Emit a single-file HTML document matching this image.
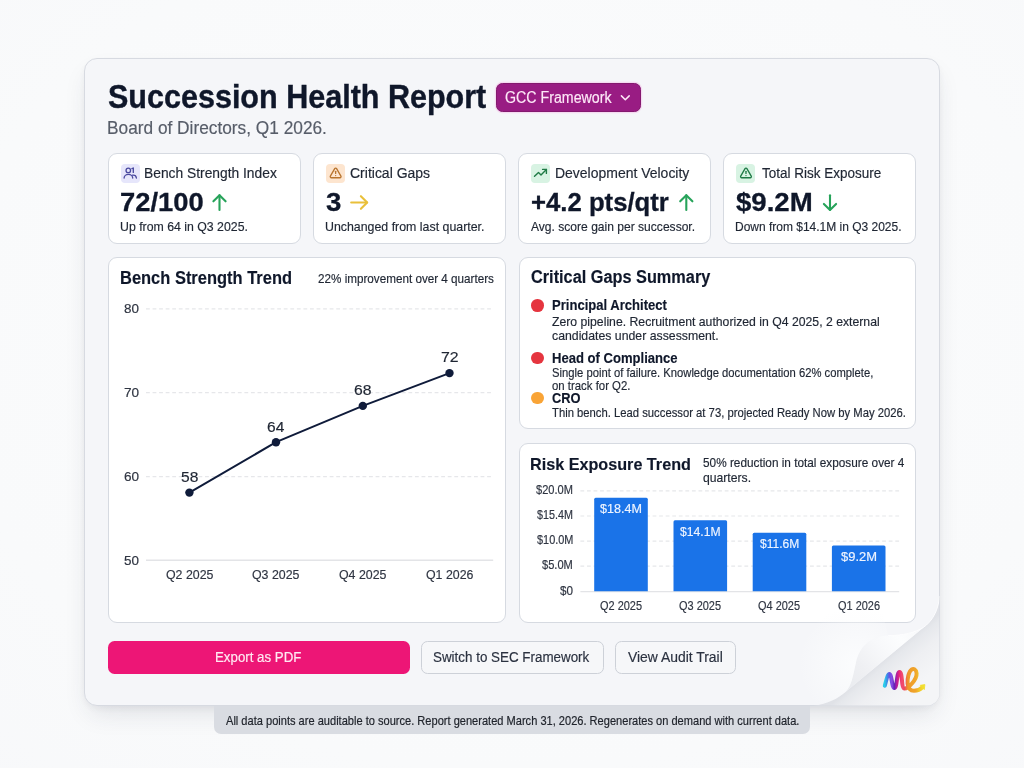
<!DOCTYPE html>
<html lang="en"><head><meta charset="utf-8"><title>Succession Health Report</title>
<style>
*{box-sizing:border-box}
html,body{margin:0;padding:0}
body{width:1024px;height:768px;overflow:hidden;font-family:"Liberation Sans",sans-serif;
 background:radial-gradient(ellipse 85% 85% at 50% 45%,#fbfcfd 0%,#f9fafb 65%,#f7f8fa 100%);position:relative}
.stage{position:absolute;left:0;top:0;width:1024px;height:768px;will-change:transform}
.abs{position:absolute;pointer-events:none}
.t{position:absolute;white-space:nowrap;margin:0;padding:0;font-weight:400;transform-origin:0 50%}
.card{position:absolute;left:84px;top:58px;width:856px;height:648px;border-radius:13px;background:#f5f6f9;
 border:1px solid #d7dae1;box-shadow:0 12px 26px -6px rgba(40,50,70,.13),0 3px 10px -1px rgba(40,50,70,.06)}
.dd{position:absolute;left:495.5px;top:83px;width:145.7px;height:29px;border-radius:6.5px;background:#991c83;border:1px solid #84196f;
 box-shadow:0 0 0 1.2px rgba(244,208,238,.75)}
.kpi{position:absolute;top:153px;width:192.7px;height:91px;border-radius:9px;background:#fff;border:1px solid #d6dae1}
.ib{position:absolute;top:163.8px;width:18.8px;height:18.8px;border-radius:4px}
.panel{position:absolute;border-radius:9px;background:#fff;border:1px solid #d6dae1}
.dot{position:absolute;width:12.6px;height:12.6px;border-radius:50%}
.btn{position:absolute;top:640.6px;height:33.4px;border-radius:6.5px}
.btn.pri{background:#ed1676}
.btn.sec{background:#f6f7f9;border:1px solid #cdd1d8}
.foot{position:absolute;left:214px;top:706.3px;width:596.2px;height:27.6px;background:#d9dce2;border-radius:0 0 7px 7px}
</style></head>
<body>
<div class="stage">
<div class="card"></div>
<header>
<h1 class="t" style="left:108.09px;top:80.43px;font-size:33.4px;line-height:33.4px;color:#0f172a;font-weight:700;transform:scaleX(0.9142);-webkit-text-stroke:0.4px #0f172a;">Succession Health Report</h1>
<p class="t" style="left:107.22px;top:119.16px;font-size:18px;line-height:18px;color:#575d69;transform:scaleX(0.9598);-webkit-text-stroke:0.18px #575d69;">Board of Directors, Q1 2026.</p>
<div class="dd"></div>
<div class="t" style="left:504.79px;top:89.69px;font-size:15.6px;line-height:15.6px;color:#fde8f7;transform:scaleX(0.9108);-webkit-text-stroke:0.18px #fde8f7;">GCC Framework</div>
<svg class="abs" style="left:619px;top:92px" width="13" height="12" viewBox="0 0 13 12"><path d="M2.4 3.9 L6.3 7.8 L10.2 3.9" fill="none" stroke="#fde8f7" stroke-width="1.5" stroke-linecap="round" stroke-linejoin="round"/></svg>
</header>
<section>
<div class="kpi" style="left:108.0px"></div>
<div class="kpi" style="left:312.9px"></div>
<div class="kpi" style="left:518.2px"></div>
<div class="kpi" style="left:723.2px"></div>
<div class="ib" style="left:121.2px;background:#e6e6fb"></div>
<div class="ib" style="left:326.3px;background:#fde5cf"></div>
<div class="ib" style="left:531.3px;background:#d8f3e3"></div>
<div class="ib" style="left:736.4px;background:#d8f3e3"></div>
<svg class="abs" style="left:0;top:0" width="1024" height="768" viewBox="0 0 1024 768">
<g fill="none" stroke-linecap="round" stroke-linejoin="round">
 <g stroke="#4b4aa0" stroke-width="1.35">
  <circle cx="128.3" cy="170.4" r="2.25"/>
  <path d="M124.1 178 a4.3 3.6 0 0 1 8.6 0"/>
  <path d="M133.3 168.2 v4.2"/>
  <path d="M131.9 168.6 l1.4 -0.4"/>
  <path d="M132.6 175.2 a3.4 3.2 0 0 1 3.8 2.8"/>
 </g>
 <g stroke="#b8742e" stroke-width="2.45" transform="translate(329.17 166.43) scale(.54)">
  <path d="m21.73 18-8-14a2 2 0 0 0-3.48 0l-8 14A2 2 0 0 0 4 21h16a2 2 0 0 0 1.73-3"/>
  <path d="M12 9v4"/><path d="M12 17h.01"/>
 </g>
 <g stroke="#1f7a45" stroke-width="1.4">
  <path d="M534.5 176.3 L538.5 172.4 L541 174.9 L546.4 169.5"/>
  <path d="M542.6 169.4 H546.4 V173.4"/>
 </g>
 <g stroke="#1f7a45" stroke-width="2.45" transform="translate(739.5 166.43) scale(.54)">
  <path d="m21.73 18-8-14a2 2 0 0 0-3.48 0l-8 14A2 2 0 0 0 4 21h16a2 2 0 0 0 1.73-3"/>
  <path d="M12 9v4"/><path d="M12 17h.01"/>
 </g>
 <!-- trend arrows -->
 <g stroke="#27a35a" stroke-width="2.1">
  <path d="M219.5 195.4 V210"/><path d="M213.4 201.3 L219.5 195.2 L225.6 201.3"/>
  <path d="M686.3 195.4 V210"/><path d="M680.2 201.3 L686.3 195.2 L692.4 201.3"/>
  <path d="M830 195.2 V209.8"/><path d="M823.9 203.9 L830 210 L836.1 203.9"/>
 </g>
 <g stroke="#e9c03a" stroke-width="2.1">
  <path d="M351.2 202.5 H367"/><path d="M360.9 196.2 L367.2 202.5 L360.9 208.8"/>
 </g>
</g></svg>
<div class="t" style="left:144.49px;top:165.86px;font-size:14.7px;line-height:14.7px;color:#1f2633;transform:scaleX(0.9401);-webkit-text-stroke:0.18px #1f2633;">Bench Strength Index</div>
<div class="t" style="left:350.10px;top:165.86px;font-size:14.7px;line-height:14.7px;color:#1f2633;transform:scaleX(0.9529);-webkit-text-stroke:0.18px #1f2633;">Critical Gaps</div>
<div class="t" style="left:554.68px;top:165.86px;font-size:14.7px;line-height:14.7px;color:#1f2633;transform:scaleX(0.9512);-webkit-text-stroke:0.18px #1f2633;">Development Velocity</div>
<div class="t" style="left:761.53px;top:165.86px;font-size:14.7px;line-height:14.7px;color:#1f2633;transform:scaleX(0.9189);-webkit-text-stroke:0.18px #1f2633;">Total Risk Exposure</div>
<div class="t" style="left:119.70px;top:189.28px;font-size:26.6px;line-height:26.6px;color:#0f172a;font-weight:700;transform:scaleX(1.0294);-webkit-text-stroke:0.3px #0f172a;">72/100</div>
<div class="t" style="left:326.15px;top:189.28px;font-size:26.6px;line-height:26.6px;color:#0f172a;font-weight:700;transform:scaleX(1.0376);-webkit-text-stroke:0.3px #0f172a;">3</div>
<div class="t" style="left:531.17px;top:189.28px;font-size:26.6px;line-height:26.6px;color:#0f172a;font-weight:700;transform:scaleX(0.9664);-webkit-text-stroke:0.3px #0f172a;">+4.2 pts/qtr</div>
<div class="t" style="left:736.32px;top:189.28px;font-size:26.6px;line-height:26.6px;color:#0f172a;font-weight:700;transform:scaleX(1.0376);-webkit-text-stroke:0.3px #0f172a;">$9.2M</div>
<div class="t" style="left:119.94px;top:219.97px;font-size:13.5px;line-height:13.5px;color:#1f2633;transform:scaleX(0.9115);-webkit-text-stroke:0.18px #1f2633;">Up from 64 in Q3 2025.</div>
<div class="t" style="left:325.33px;top:219.97px;font-size:13.5px;line-height:13.5px;color:#1f2633;transform:scaleX(0.9158);-webkit-text-stroke:0.18px #1f2633;">Unchanged from last quarter.</div>
<div class="t" style="left:531.20px;top:219.97px;font-size:13.5px;line-height:13.5px;color:#1f2633;transform:scaleX(0.8937);-webkit-text-stroke:0.18px #1f2633;">Avg. score gain per successor.</div>
<div class="t" style="left:735.34px;top:219.97px;font-size:13.5px;line-height:13.5px;color:#1f2633;transform:scaleX(0.8875);-webkit-text-stroke:0.18px #1f2633;">Down from $14.1M in Q3 2025.</div>
</section>
<section>
<div class="panel" style="left:108px;top:257px;width:397.5px;height:366px"></div>
<h2 class="t" style="left:120.21px;top:269.50px;font-size:17.6px;line-height:17.6px;color:#0f172a;font-weight:700;transform:scaleX(0.9360);-webkit-text-stroke:0.15px #0f172a;">Bench Strength Trend</h2>
<div class="t" style="left:317.72px;top:272.20px;font-size:13px;line-height:13px;color:#1f2633;transform:scaleX(0.8986);-webkit-text-stroke:0.18px #1f2633;">22% improvement over 4 quarters</div>
<svg class="abs" style="left:0;top:0" width="1024" height="768" viewBox="0 0 1024 768"><path d="M146 308.8 H493.2" stroke="#e6e7ea" stroke-width="1.2" stroke-dasharray="3.8 2.76" fill="none"/><path d="M146 392.7 H493.2" stroke="#e6e7ea" stroke-width="1.2" stroke-dasharray="3.8 2.76" fill="none"/><path d="M146 476.6 H493.2" stroke="#e6e7ea" stroke-width="1.2" stroke-dasharray="3.8 2.76" fill="none"/><path d="M146 560.3 H493.2" stroke="#e3e4e7" stroke-width="1.4" fill="none"/><path d="M189.4 492.6 L276 442.2 L362.8 405.9 L449.5 373.1" stroke="#0f1b3a" stroke-width="2" fill="none" stroke-linejoin="round"/><circle cx="189.4" cy="492.6" r="4.2" fill="#0f1b3a"/><circle cx="276" cy="442.2" r="4.2" fill="#0f1b3a"/><circle cx="362.8" cy="405.9" r="4.2" fill="#0f1b3a"/><circle cx="449.5" cy="373.1" r="4.2" fill="#0f1b3a"/></svg>
<div class="t" style="left:180.68px;top:469.96px;font-size:14.7px;line-height:14.7px;color:#1f2633;transform:scaleX(1.0597);-webkit-text-stroke:0.18px #1f2633;">58</div>
<div class="t" style="left:267.12px;top:419.56px;font-size:14.7px;line-height:14.7px;color:#1f2633;transform:scaleX(1.0597);-webkit-text-stroke:0.18px #1f2633;">64</div>
<div class="t" style="left:353.91px;top:383.26px;font-size:14.7px;line-height:14.7px;color:#1f2633;transform:scaleX(1.0699);-webkit-text-stroke:0.18px #1f2633;">68</div>
<div class="t" style="left:440.61px;top:350.46px;font-size:14.7px;line-height:14.7px;color:#1f2633;transform:scaleX(1.0804);-webkit-text-stroke:0.18px #1f2633;">72</div>
<div class="t" style="left:123.76px;top:302.06px;font-size:13.4px;line-height:13.4px;color:#2f3542;transform:scaleX(1.0046);-webkit-text-stroke:0.18px #2f3542;">80</div>
<div class="t" style="left:123.62px;top:385.96px;font-size:13.4px;line-height:13.4px;color:#2f3542;transform:scaleX(1.0143);-webkit-text-stroke:0.18px #2f3542;">70</div>
<div class="t" style="left:123.62px;top:469.86px;font-size:13.4px;line-height:13.4px;color:#2f3542;transform:scaleX(1.0143);-webkit-text-stroke:0.18px #2f3542;">60</div>
<div class="t" style="left:123.76px;top:553.66px;font-size:13.4px;line-height:13.4px;color:#2f3542;transform:scaleX(1.0046);-webkit-text-stroke:0.18px #2f3542;">50</div>
<div class="t" style="left:165.66px;top:568.36px;font-size:13.4px;line-height:13.4px;color:#2f3542;transform:scaleX(0.9229);-webkit-text-stroke:0.18px #2f3542;">Q2 2025</div>
<div class="t" style="left:252.26px;top:568.36px;font-size:13.4px;line-height:13.4px;color:#2f3542;transform:scaleX(0.9229);-webkit-text-stroke:0.18px #2f3542;">Q3 2025</div>
<div class="t" style="left:339.06px;top:568.36px;font-size:13.4px;line-height:13.4px;color:#2f3542;transform:scaleX(0.9229);-webkit-text-stroke:0.18px #2f3542;">Q4 2025</div>
<div class="t" style="left:425.76px;top:568.36px;font-size:13.4px;line-height:13.4px;color:#2f3542;transform:scaleX(0.9229);-webkit-text-stroke:0.18px #2f3542;">Q1 2026</div>
</section>
<section>
<div class="panel" style="left:518.5px;top:257px;width:397.5px;height:172px"></div>
<h2 class="t" style="left:530.75px;top:269.00px;font-size:17.6px;line-height:17.6px;color:#0f172a;font-weight:700;transform:scaleX(0.9261);-webkit-text-stroke:0.15px #0f172a;">Critical Gaps Summary</h2>
<div class="dot" style="left:531.2px;top:299.0px;background:#e5353f"></div>
<div class="dot" style="left:531.2px;top:351.7px;background:#e5353f"></div>
<div class="dot" style="left:531.2px;top:391.5px;background:#f9a436"></div>
<h3 class="t" style="left:551.92px;top:298.10px;font-size:14.3px;line-height:14.3px;color:#0f172a;font-weight:700;transform:scaleX(0.9137);-webkit-text-stroke:0.15px #0f172a;">Principal Architect</h3>
<div class="t" style="left:552.33px;top:314.50px;font-size:13px;line-height:13px;color:#1f2633;transform:scaleX(0.9407);-webkit-text-stroke:0.18px #1f2633;">Zero pipeline. Recruitment authorized in Q4 2025, 2 external</div>
<div class="t" style="left:552.21px;top:329.10px;font-size:13px;line-height:13px;color:#1f2633;transform:scaleX(0.9451);-webkit-text-stroke:0.18px #1f2633;">candidates under assessment.</div>
<h3 class="t" style="left:551.92px;top:350.70px;font-size:14.3px;line-height:14.3px;color:#0f172a;font-weight:700;transform:scaleX(0.9136);-webkit-text-stroke:0.15px #0f172a;">Head of Compliance</h3>
<div class="t" style="left:552.25px;top:367.00px;font-size:12.4px;line-height:12.4px;color:#1f2633;transform:scaleX(0.9074);-webkit-text-stroke:0.18px #1f2633;">Single point of failure. Knowledge documentation 62% complete,</div>
<div class="t" style="left:552.24px;top:380.10px;font-size:12.4px;line-height:12.4px;color:#1f2633;transform:scaleX(0.9186);-webkit-text-stroke:0.18px #1f2633;">on track for Q2.</div>
<h3 class="t" style="left:552.19px;top:390.80px;font-size:14.3px;line-height:14.3px;color:#0f172a;font-weight:700;transform:scaleX(0.8986);-webkit-text-stroke:0.15px #0f172a;">CRO</h3>
<div class="t" style="left:552.47px;top:407.00px;font-size:12.4px;line-height:12.4px;color:#1f2633;transform:scaleX(0.9095);-webkit-text-stroke:0.18px #1f2633;">Thin bench. Lead successor at 73, projected Ready Now by May 2026.</div>
</section>
<section>
<div class="panel" style="left:518.5px;top:442.5px;width:397.5px;height:180.5px"></div>
<h2 class="t" style="left:530.43px;top:455.51px;font-size:17.0px;line-height:17.0px;color:#0f172a;font-weight:700;transform:scaleX(0.9515);-webkit-text-stroke:0.15px #0f172a;">Risk Exposure Trend</h2>
<div class="t" style="left:702.53px;top:456.40px;font-size:13px;line-height:13px;color:#1f2633;transform:scaleX(0.9077);-webkit-text-stroke:0.18px #1f2633;">50% reduction in total exposure over 4</div>
<div class="t" style="left:702.51px;top:471.00px;font-size:13px;line-height:13px;color:#1f2633;transform:scaleX(0.9364);-webkit-text-stroke:0.18px #1f2633;">quarters.</div>
<svg class="abs" style="left:0;top:0" width="1024" height="768" viewBox="0 0 1024 768"><path d="M580.4 490.8 H899.2" stroke="#e6e7ea" stroke-width="1.2" stroke-dasharray="3.8 2.76" fill="none"/><path d="M580.4 516 H899.2" stroke="#e6e7ea" stroke-width="1.2" stroke-dasharray="3.8 2.76" fill="none"/><path d="M580.4 541.1 H899.2" stroke="#e6e7ea" stroke-width="1.2" stroke-dasharray="3.8 2.76" fill="none"/><path d="M580.4 566.2 H899.2" stroke="#e6e7ea" stroke-width="1.2" stroke-dasharray="3.8 2.76" fill="none"/><path d="M580.4 591.6 H899.2" stroke="#e3e4e7" stroke-width="1.4" fill="none"/><path d="M594.2 591.3 V499.3 q0 -1.5 1.5 -1.5 H646.3000000000001 q1.5 0 1.5 1.5 V591.3 Z" fill="#1a73e8"/><path d="M673.5 591.3 V521.8 q0 -1.5 1.5 -1.5 H725.6 q1.5 0 1.5 1.5 V591.3 Z" fill="#1a73e8"/><path d="M752.7 591.3 V534.3 q0 -1.5 1.5 -1.5 H804.8000000000001 q1.5 0 1.5 1.5 V591.3 Z" fill="#1a73e8"/><path d="M831.9 591.3 V546.9 q0 -1.5 1.5 -1.5 H884.0 q1.5 0 1.5 1.5 V591.3 Z" fill="#1a73e8"/></svg>
<div class="t" style="left:600.42px;top:502.00px;font-size:13.7px;line-height:13.7px;color:#eef4ff;transform:scaleX(0.9186);-webkit-text-stroke:0.18px #eef4ff;">$18.4M</div>
<div class="t" style="left:680.43px;top:524.50px;font-size:13.7px;line-height:13.7px;color:#eef4ff;transform:scaleX(0.8871);-webkit-text-stroke:0.18px #eef4ff;">$14.1M</div>
<div class="t" style="left:760.23px;top:537.00px;font-size:13.7px;line-height:13.7px;color:#eef4ff;transform:scaleX(0.8791);-webkit-text-stroke:0.18px #eef4ff;">$11.6M</div>
<div class="t" style="left:841.07px;top:549.60px;font-size:13.7px;line-height:13.7px;color:#eef4ff;transform:scaleX(0.9462);-webkit-text-stroke:0.18px #eef4ff;">$9.2M</div>
<div class="t" style="left:536.19px;top:484.53px;font-size:11.9px;line-height:11.9px;color:#2f3542;transform:scaleX(0.9308);-webkit-text-stroke:0.18px #2f3542;">$20.0M</div>
<div class="t" style="left:537.19px;top:509.83px;font-size:11.9px;line-height:11.9px;color:#2f3542;transform:scaleX(0.9050);-webkit-text-stroke:0.18px #2f3542;">$15.4M</div>
<div class="t" style="left:536.69px;top:535.03px;font-size:11.9px;line-height:11.9px;color:#2f3542;transform:scaleX(0.9179);-webkit-text-stroke:0.18px #2f3542;">$10.0M</div>
<div class="t" style="left:542.19px;top:560.43px;font-size:11.9px;line-height:11.9px;color:#2f3542;transform:scaleX(0.9337);-webkit-text-stroke:0.18px #2f3542;">$5.0M</div>
<div class="t" style="left:559.68px;top:586.03px;font-size:11.9px;line-height:11.9px;color:#2f3542;transform:scaleX(0.9817);-webkit-text-stroke:0.18px #2f3542;">$0</div>
<div class="t" style="left:599.96px;top:599.73px;font-size:12.6px;line-height:12.6px;color:#2f3542;transform:scaleX(0.8696);-webkit-text-stroke:0.18px #2f3542;">Q2 2025</div>
<div class="t" style="left:679.26px;top:599.73px;font-size:12.6px;line-height:12.6px;color:#2f3542;transform:scaleX(0.8696);-webkit-text-stroke:0.18px #2f3542;">Q3 2025</div>
<div class="t" style="left:758.46px;top:599.73px;font-size:12.6px;line-height:12.6px;color:#2f3542;transform:scaleX(0.8696);-webkit-text-stroke:0.18px #2f3542;">Q4 2025</div>
<div class="t" style="left:837.66px;top:599.73px;font-size:12.6px;line-height:12.6px;color:#2f3542;transform:scaleX(0.8696);-webkit-text-stroke:0.18px #2f3542;">Q1 2026</div>
</section>
<nav>
<div class="btn pri" style="left:108px;width:302px"></div>
<div class="t" style="left:215.14px;top:650.06px;font-size:14.7px;line-height:14.7px;color:#ffe9f2;transform:scaleX(0.9049);-webkit-text-stroke:0.18px #ffe9f2;">Export as PDF</div>
<div class="btn sec" style="left:420.5px;width:183px"></div>
<div class="t" style="left:433.36px;top:650.06px;font-size:14.7px;line-height:14.7px;color:#2b3240;transform:scaleX(0.9117);-webkit-text-stroke:0.18px #2b3240;">Switch to SEC Framework</div>
<div class="btn sec" style="left:614.5px;width:121px"></div>
<div class="t" style="left:628.10px;top:650.06px;font-size:14.7px;line-height:14.7px;color:#2b3240;transform:scaleX(0.9459);-webkit-text-stroke:0.18px #2b3240;">View Audit Trail</div>
</nav>
<footer>
<div class="foot"></div>
<div class="t" style="left:225.50px;top:715.27px;font-size:12.2px;line-height:12.2px;color:#20242c;transform:scaleX(0.9081);-webkit-text-stroke:0.18px #20242c;">All data points are auditable to source. Report generated March 31, 2026. Regenerates on demand with current data.</div>
</footer>
<svg class="abs" style="left:0;top:0" width="1024" height="768" viewBox="0 0 1024 768">
<defs>
 <linearGradient id="gUnder" gradientUnits="userSpaceOnUse" x1="890" y1="655" x2="916" y2="686">
  <stop offset="0" stop-color="#e0e2e7"/><stop offset=".12" stop-color="#e6e8ec"/><stop offset=".45" stop-color="#eeeff2"/><stop offset="1" stop-color="#f4f5f7"/>
 </linearGradient>
 <linearGradient id="gFlap" gradientUnits="userSpaceOnUse" x1="926" y1="625" x2="848" y2="690">
  <stop offset="0" stop-color="#f6f7f9"/><stop offset=".28" stop-color="#fcfdfe"/><stop offset=".5" stop-color="#f7f8fa"/><stop offset=".75" stop-color="#eff0f3"/><stop offset="1" stop-color="#e9ebef"/>
 </linearGradient>
 <radialGradient id="gEdge" gradientUnits="userSpaceOnUse" cx="856" cy="664" r="58">
  <stop offset="0" stop-color="#fcfdfe" stop-opacity=".95"/><stop offset=".45" stop-color="#fbfcfd" stop-opacity=".6"/><stop offset="1" stop-color="#fafbfc" stop-opacity="0"/>
 </radialGradient>
 <linearGradient id="gLogo" gradientUnits="userSpaceOnUse" x1="884" y1="0" x2="925" y2="0">
  <stop offset=".017" stop-color="#2ccbe9"/><stop offset=".073" stop-color="#3b8ee7"/><stop offset=".13" stop-color="#6650e2"/>
  <stop offset=".195" stop-color="#8a4fe6"/><stop offset=".25" stop-color="#5e24b8"/><stop offset=".305" stop-color="#b01ca0"/>
  <stop offset=".378" stop-color="#ea2a74"/><stop offset=".44" stop-color="#f24a6e"/><stop offset=".50" stop-color="#ee4a5e"/>
  <stop offset=".55" stop-color="#f07a3a"/><stop offset=".585" stop-color="#ee992a"/><stop offset=".78" stop-color="#f0a62a"/>
  <stop offset=".85" stop-color="#f2c42a"/><stop offset=".975" stop-color="#f1e02e"/>
 </linearGradient>
 <clipPath id="cardClip"><rect x="84.5" y="58.5" width="855" height="647" rx="12.5"/></clipPath>
</defs>
<g clip-path="url(#cardClip)">
 <path d="M939.5 596 C938.8 607 934.5 618 926.5 625 L845.5 692 C838 698.5 828 703.5 813 706 H940 Z" fill="url(#gUnder)"/>
 <path d="M926.5 625 C918.5 631.6 908 634.6 893 635.4 L888 635.6 C869 636.4 859.5 648 856 662 C853 676 851.5 686 845.5 692 Z" fill="url(#gFlap)"/>
 <path d="M888 635.6 C869 636.4 859.5 648 856 662 C853 676 851.5 686 845.5 692 C838 698.5 828 703.5 813 706 H780 V600 H880 Z" fill="url(#gEdge)"/>
 <path d="M939.5 596 C938.8 607 934.5 618 926.5 625 C918.5 631.6 908 634.6 893 635.4 L888 635.6" fill="none" stroke="#fdfdfe" stroke-width="1" stroke-opacity=".9"/>
</g>
<g fill="none" stroke="url(#gLogo)" stroke-width="4" stroke-linecap="round" stroke-linejoin="round">
 <path d="M884.8 685.8 C886.2 681 887.4 674.1 889.4 674.1 C892 674.1 891.6 687.9 894.3 687.9 C897.4 687.9 896.4 672 899.5 672 C902.8 672 901 688.6 904.6 688.6 C908.4 688.6 917 679.5 916.6 673.4 C916.3 669 913.4 668.4 911.8 669.4 C908.6 671.6 907.2 679 907.6 683.6 C908 688 910.4 690.9 914 690.8 C917.6 690.7 920.4 689.4 922.3 687.3"/>
</g>
<path d="M924.9 684.6 L924.3 689.6 L920.2 685.3 Z" fill="#f1de2e" stroke="#f1de2e" stroke-width=".8" stroke-linejoin="round"/>
</svg>

</div>
</body></html>
